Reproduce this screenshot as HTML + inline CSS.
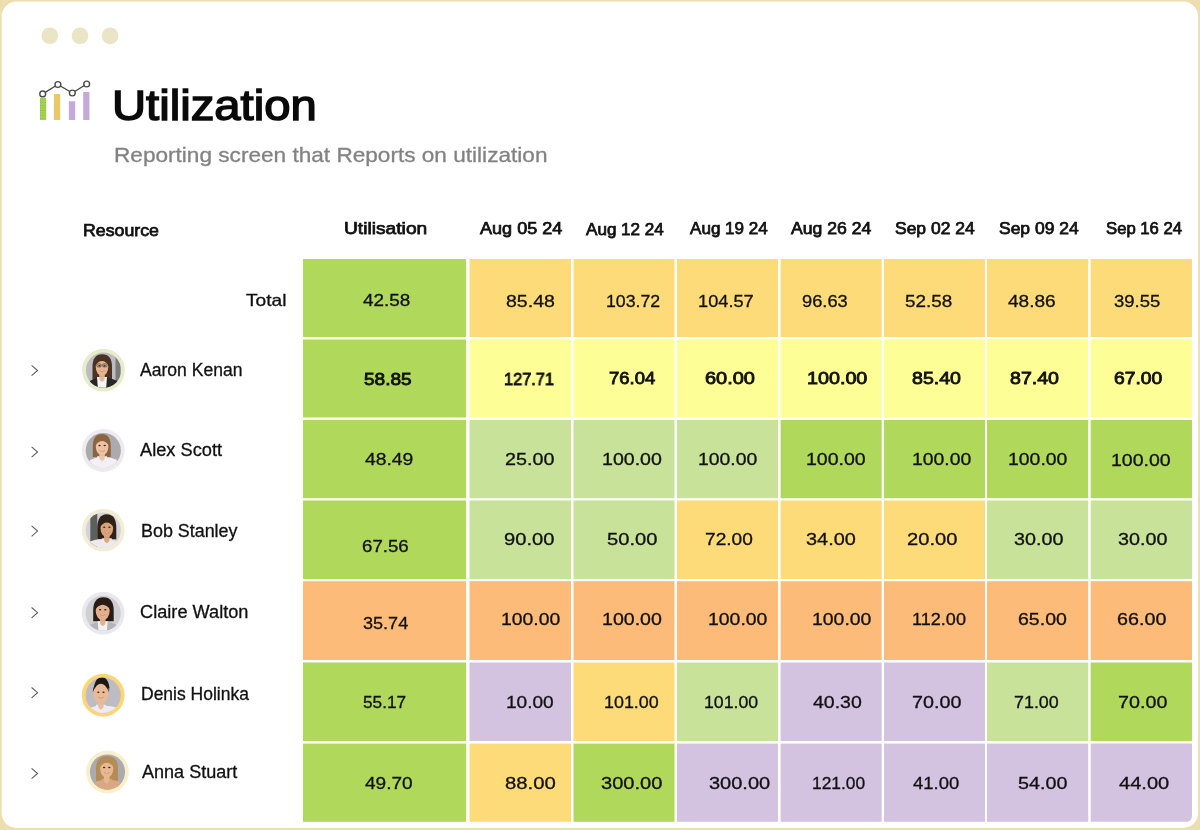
<!DOCTYPE html><html><head><meta charset="utf-8"><style>
*{margin:0;padding:0;box-sizing:border-box}
html,body{width:1200px;height:830px;overflow:hidden;background:#ECDEAF}
body{position:relative;font-family:"Liberation Sans",sans-serif}
.win{position:absolute;left:1.7px;top:1.5px;width:1196.3px;height:826.5px;background:#fff;border-radius:15px}
.t{position:absolute;white-space:nowrap;line-height:1;transform-origin:0 0;will-change:transform}
svg{position:absolute;left:0;top:0}
</style></head><body>
<svg width="1200" height="830" viewBox="0 0 1200 830"><rect x="1.6" y="1.5" width="1196.5" height="826.5" rx="15" ry="15" fill="#fff"/><defs><pattern id="dp" width="2.6" height="2.6" patternUnits="userSpaceOnUse" patternTransform="rotate(45)"><rect width="2.6" height="2.6" fill="#E8E8C8"/><circle cx="1.3" cy="1.3" r="0.55" fill="#F7D2BA"/></pattern><pattern id="gp" width="2.2" height="2.6" patternUnits="userSpaceOnUse"><rect width="2.2" height="2.6" fill="#A3D34E"/><circle cx="1.1" cy="1.3" r="0.4" fill="#6E8A40"/></pattern></defs><circle cx="49.8" cy="35.8" r="8.4" fill="url(#dp)"/><circle cx="80" cy="35.8" r="8.4" fill="url(#dp)"/><circle cx="110.1" cy="35.8" r="8.4" fill="url(#dp)"/><rect x="40" y="98" width="6.2" height="22" fill="url(#gp)"/><rect x="53.9" y="94" width="6.2" height="26" fill="#ECC864"/><rect x="68.8" y="101.3" width="6.4" height="18.7" fill="#C4A9D9"/><rect x="83.2" y="92" width="6.2" height="28" fill="#C4A9D9"/><polyline points="42.7,93.9 57.9,84.5 72.3,93 86.7,84" fill="none" stroke="#4a4a46" stroke-width="1.4"/><circle cx="42.7" cy="93.9" r="2.9" fill="#fff" stroke="#4a4a46" stroke-width="1.4"/><circle cx="57.9" cy="84.5" r="2.9" fill="#fff" stroke="#4a4a46" stroke-width="1.4"/><circle cx="72.3" cy="93" r="2.9" fill="#fff" stroke="#4a4a46" stroke-width="1.4"/><circle cx="86.7" cy="84" r="2.9" fill="#fff" stroke="#4a4a46" stroke-width="1.4"/><rect x="303" y="259" width="163.00" height="78.00" fill="#B0D85A"/><rect x="469.5" y="259" width="101.50" height="78.00" fill="#FDDB79"/><rect x="573.5" y="259" width="101.00" height="78.00" fill="#FDDB79"/><rect x="677" y="259" width="101.00" height="78.00" fill="#FDDB79"/><rect x="780.6" y="259" width="101.10" height="78.00" fill="#FDDB79"/><rect x="884" y="259" width="101.00" height="78.00" fill="#FDDB79"/><rect x="987" y="259" width="101.20" height="78.00" fill="#FDDB79"/><rect x="1090.7" y="259" width="101.30" height="78.00" fill="#FDDB79"/><rect x="303" y="339.5" width="163.00" height="78.00" fill="#B0D85A"/><rect x="469.5" y="339.5" width="101.50" height="78.00" fill="#FEFE97"/><rect x="573.5" y="339.5" width="101.00" height="78.00" fill="#FEFE97"/><rect x="677" y="339.5" width="101.00" height="78.00" fill="#FEFE97"/><rect x="780.6" y="339.5" width="101.10" height="78.00" fill="#FEFE97"/><rect x="884" y="339.5" width="101.00" height="78.00" fill="#FEFE97"/><rect x="987" y="339.5" width="101.20" height="78.00" fill="#FEFE97"/><rect x="1090.7" y="339.5" width="101.30" height="78.00" fill="#FEFE97"/><rect x="303" y="420" width="163.00" height="78.20" fill="#B0D85A"/><rect x="469.5" y="420" width="101.50" height="78.20" fill="#C8E299"/><rect x="573.5" y="420" width="101.00" height="78.20" fill="#C8E299"/><rect x="677" y="420" width="101.00" height="78.20" fill="#C8E299"/><rect x="780.6" y="420" width="101.10" height="78.20" fill="#B0D85A"/><rect x="884" y="420" width="101.00" height="78.20" fill="#B0D85A"/><rect x="987" y="420" width="101.20" height="78.20" fill="#B0D85A"/><rect x="1090.7" y="420" width="101.30" height="78.20" fill="#B0D85A"/><rect x="303" y="500.5" width="163.00" height="78.50" fill="#B0D85A"/><rect x="469.5" y="500.5" width="101.50" height="78.50" fill="#C8E299"/><rect x="573.5" y="500.5" width="101.00" height="78.50" fill="#C8E299"/><rect x="677" y="500.5" width="101.00" height="78.50" fill="#FDDB79"/><rect x="780.6" y="500.5" width="101.10" height="78.50" fill="#FDDB79"/><rect x="884" y="500.5" width="101.00" height="78.50" fill="#FDDB79"/><rect x="987" y="500.5" width="101.20" height="78.50" fill="#C8E299"/><rect x="1090.7" y="500.5" width="101.30" height="78.50" fill="#C8E299"/><rect x="303" y="581.2" width="163.00" height="78.80" fill="#FCBB79"/><rect x="469.5" y="581.2" width="101.50" height="78.80" fill="#FCBB79"/><rect x="573.5" y="581.2" width="101.00" height="78.80" fill="#FCBB79"/><rect x="677" y="581.2" width="101.00" height="78.80" fill="#FCBB79"/><rect x="780.6" y="581.2" width="101.10" height="78.80" fill="#FCBB79"/><rect x="884" y="581.2" width="101.00" height="78.80" fill="#FCBB79"/><rect x="987" y="581.2" width="101.20" height="78.80" fill="#FCBB79"/><rect x="1090.7" y="581.2" width="101.30" height="78.80" fill="#FCBB79"/><rect x="303" y="662.5" width="163.00" height="78.50" fill="#B0D85A"/><rect x="469.5" y="662.5" width="101.50" height="78.50" fill="#D3C3E1"/><rect x="573.5" y="662.5" width="101.00" height="78.50" fill="#FDDB79"/><rect x="677" y="662.5" width="101.00" height="78.50" fill="#C8E299"/><rect x="780.6" y="662.5" width="101.10" height="78.50" fill="#D3C3E1"/><rect x="884" y="662.5" width="101.00" height="78.50" fill="#D3C3E1"/><rect x="987" y="662.5" width="101.20" height="78.50" fill="#C8E299"/><rect x="1090.7" y="662.5" width="101.30" height="78.50" fill="#B0D85A"/><rect x="303" y="743.6" width="163.00" height="78.20" fill="#B0D85A"/><rect x="469.5" y="743.6" width="101.50" height="78.20" fill="#FDDB79"/><rect x="573.5" y="743.6" width="101.00" height="78.20" fill="#B0D85A"/><rect x="677" y="743.6" width="101.00" height="78.20" fill="#D3C3E1"/><rect x="780.6" y="743.6" width="101.10" height="78.20" fill="#D3C3E1"/><rect x="884" y="743.6" width="101.00" height="78.20" fill="#D3C3E1"/><rect x="987" y="743.6" width="101.20" height="78.20" fill="#D3C3E1"/><path d="M1090.7,743.6 H1192 V815.8 Q1192,821.8 1186,821.8 H1090.7 Z" fill="#D3C3E1"/><polyline points="31.6,365.3 37.6,370.5 31.6,375.7" fill="none" stroke="#5a5a5a" stroke-width="1.05"/><polyline points="31.6,446.8 37.6,452.0 31.6,457.2" fill="none" stroke="#5a5a5a" stroke-width="1.05"/><polyline points="31.6,525.9 37.6,531.1 31.6,536.3" fill="none" stroke="#5a5a5a" stroke-width="1.05"/><polyline points="31.6,607.5 37.6,612.7 31.6,617.9" fill="none" stroke="#5a5a5a" stroke-width="1.05"/><polyline points="31.6,687.5 37.6,692.7 31.6,697.9" fill="none" stroke="#5a5a5a" stroke-width="1.05"/><polyline points="31.6,768.3 37.6,773.5 31.6,778.7" fill="none" stroke="#5a5a5a" stroke-width="1.05"/></svg>
<svg width="1200" height="830" viewBox="0 0 1200 830" style="position:absolute;left:0;top:0"><defs><clipPath id="c0"><circle cx="0" cy="0" r="17.6"/></clipPath><clipPath id="c1"><circle cx="0" cy="0" r="17.6"/></clipPath><clipPath id="c2"><circle cx="0" cy="0" r="17.6"/></clipPath><clipPath id="c3"><circle cx="0" cy="0" r="17.6"/></clipPath><clipPath id="c4"><circle cx="0" cy="0" r="17.6"/></clipPath><clipPath id="c5"><circle cx="0" cy="0" r="17.6"/></clipPath></defs><circle cx="103.5" cy="370.2" r="21.4" fill="#E7ECCB"/><g clip-path="url(#c0)" transform="translate(103.5,370.2)"><rect x="-20" y="-20" width="40" height="40" fill="#BDBDC1"/><rect x="12" y="-20" width="5" height="40" fill="#7A7A7C"/><path d="M-11,11 L-11,-3.5 Q-11,-16 -1.25,-16 Q8.5,-16 8.5,-3.5 L8.5,11 Z" fill="#4A3322"/><path d="M-19,20 Q-17,7.699999999999999 -2,7.699999999999999 L2,7.699999999999999 Q17,7.699999999999999 19,20 Z" fill="#262626"/><path d="M-5.5,20 L-6.5,6.699999999999999 L3.5,6.699999999999999 L2.5,20 Z" fill="#F4F4F6"/><path d="M-4.5,2.6999999999999993 L1.5,2.6999999999999993 L1.0,9.7 L-1.5,11.7 L-4.0,9.7 Z" fill="#E4B48E" opacity="0.95"/><ellipse cx="-1.5" cy="-3.5" rx="6.3" ry="9.2" fill="#E4B48E"/><path d="M-8.3,-4.5 Q-7.8,-13.5 -1.5,-13.5 Q4.8,-13.5 5.3,-4.5 Q2.28,-9.02 -1.5,-9.204 Q-5.279999999999999,-9.02 -8.3,-4.5 Z" fill="#4A3322"/><ellipse cx="-4.1" cy="-4.5" rx="1.2" ry="0.7" fill="#3a2a20"/><ellipse cx="1.1" cy="-4.5" rx="1.2" ry="0.7" fill="#3a2a20"/><path d="M-4.0,0.5 Q-1.5,2.3 1.0,0.5" fill="#F4ECEA" stroke="#A86A58" stroke-width="0.6"/><rect x="-6.7" y="-6.3" width="4.4" height="3" rx="1.2" fill="none" stroke="#333" stroke-width="0.65"/><rect x="-0.9" y="-6.3" width="4.4" height="3" rx="1.2" fill="none" stroke="#333" stroke-width="0.65"/></g><circle cx="103.3" cy="450.5" r="21.4" fill="#EEEAF0"/><g clip-path="url(#c1)" transform="translate(103.3,450.5)"><rect x="-20" y="-20" width="40" height="40" fill="#ABABAE"/><path d="M-10.5,6.5 L-10.5,-4 Q-10.5,-16.5 -1.5,-16.5 Q7.5,-16.5 7.5,-4 L7.5,6.5 Z" fill="#8E6440"/><path d="M-19,20 Q-17,6.800000000000001 -2,6.800000000000001 L2,6.800000000000001 Q17,6.800000000000001 19,20 Z" fill="#F2F0F4"/><path d="M-5.2,20 L-6.2,5.800000000000001 L3.8,5.800000000000001 L2.8,20 Z" fill="#F2F0F4"/><path d="M-4.2,1.8000000000000007 L1.8,1.8000000000000007 L1.3,8.8 L-1.2,10.8 L-3.7,8.8 Z" fill="#EBC3A3" opacity="0.95"/><ellipse cx="-1.2" cy="-4" rx="6.3" ry="8.8" fill="#EBC3A3"/><path d="M-8.0,-5 Q-7.5,-13.600000000000001 -1.2,-13.600000000000001 Q5.1,-13.600000000000001 5.6,-5 Q2.58,-9.280000000000001 -1.2,-9.456 Q-4.9799999999999995,-9.280000000000001 -8.0,-5 Z" fill="#8E6440"/><ellipse cx="-3.8" cy="-5" rx="1.2" ry="0.7" fill="#3a2a20"/><ellipse cx="1.4000000000000001" cy="-5" rx="1.2" ry="0.7" fill="#3a2a20"/><path d="M-3.7,0 Q-1.2,1.7999999999999998 1.3,0" fill="#F4ECEA" stroke="#A86A58" stroke-width="0.6"/></g><circle cx="103.3" cy="530.2" r="21.4" fill="#F4EDD6"/><g clip-path="url(#c2)" transform="translate(103.3,530.2)"><rect x="-20" y="-20" width="40" height="40" fill="#D4D2DA"/><rect x="-13" y="-20" width="7" height="40" fill="#5C605C"/><path d="M-6,9 L-6,-2 Q-6,-16 3.5,-16 Q13,-16 13,-2 L13,9 Z" fill="#2E2218"/><path d="M-19,20 Q-17,9 -2,9 L2,9 Q17,9 19,20 Z" fill="#ECEAF0"/><path d="M-0.5,20 L-1.5,8 L8.5,8 L7.5,20 Z" fill="#ECEAF0"/><path d="M0.5,4 L6.5,4 L6.0,11 L3.5,13 L1.0,11 Z" fill="#D9A47A" opacity="0.95"/><ellipse cx="3.5" cy="-2" rx="6.3" ry="9" fill="#D9A47A"/><path d="M-3.3,-3 Q-2.8,-11.8 3.5,-11.8 Q9.8,-11.8 10.3,-3 Q7.279999999999999,-7.3999999999999995 3.5,-7.58 Q-0.2799999999999998,-7.3999999999999995 -3.3,-3 Z" fill="#2E2218"/><ellipse cx="0.8999999999999999" cy="-3" rx="1.2" ry="0.7" fill="#3a2a20"/><ellipse cx="6.1" cy="-3" rx="1.2" ry="0.7" fill="#3a2a20"/><path d="M1.0,2 Q3.5,3.8 6.0,2" fill="#F4ECEA" stroke="#A86A58" stroke-width="0.6"/></g><circle cx="103.2" cy="613.2" r="21.4" fill="#EAE8EE"/><g clip-path="url(#c3)" transform="translate(103.2,613.2)"><rect x="-20" y="-20" width="40" height="40" fill="#D0D0D3"/><path d="M-10,8 L-10,-2.5 Q-10,-16 0.25,-16 Q10.5,-16 10.5,-2.5 L10.5,8 Z" fill="#271D16"/><path d="M-19,20 Q-17,9.0 -2,9.0 L2,9.0 Q17,9.0 19,20 Z" fill="#B4B4B8"/><path d="M-4.5,20 L-5.5,8.0 L4.5,8.0 L3.5,20 Z" fill="#F2F2F4"/><path d="M-3.5,4.0 L2.5,4.0 L2.0,11.0 L-0.5,13.0 L-3.0,11.0 Z" fill="#E3AF8D" opacity="0.95"/><ellipse cx="-0.5" cy="-2.5" rx="7" ry="9.5" fill="#E3AF8D"/><path d="M-8.0,-3.5 Q-7.5,-12.8 -0.5,-12.8 Q6.5,-12.8 7.0,-3.5 Q3.7,-8.2 -0.5,-8.39 Q-4.7,-8.2 -8.0,-3.5 Z" fill="#271D16"/><ellipse cx="-3.1" cy="-3.5" rx="1.2" ry="0.7" fill="#3a2a20"/><ellipse cx="2.1" cy="-3.5" rx="1.2" ry="0.7" fill="#3a2a20"/><path d="M-3.0,1.5 Q-0.5,3.3 2.0,1.5" fill="#F4ECEA" stroke="#A86A58" stroke-width="0.6"/></g><circle cx="103.2" cy="695.2" r="21.4" fill="#FBD674"/><g clip-path="url(#c4)" transform="translate(103.2,695.2)"><rect x="-20" y="-20" width="40" height="40" fill="#BCBCC2"/><path d="M-9.5,-7 L-9.5,-2.0 Q-9.5,-18 -1.5,-18 Q6.5,-18 6.5,-2.0 L6.5,-7 Z" fill="#1E1812"/><path d="M-19,20 Q-17,10.5 -2,10.5 L2,10.5 Q17,10.5 19,20 Z" fill="#EEECF2"/><path d="M-6.3,20 L-7.3,9.5 L2.7,9.5 L1.7000000000000002,20 Z" fill="#EEECF2"/><path d="M-5.3,5.5 L0.7000000000000002,5.5 L0.20000000000000018,12.5 L-2.3,14.5 L-4.8,12.5 Z" fill="#E9BA96" opacity="0.95"/><ellipse cx="-2.3" cy="-2.0" rx="7.6" ry="10.5" fill="#E9BA96"/><path d="M-10.399999999999999,-3.0 Q-9.899999999999999,-13.3 -2.3,-13.3 Q5.3,-13.3 5.8,-3.0 Q2.26,-11.450000000000001 -2.3,-11.450000000000001 Q-6.859999999999999,-11.450000000000001 -10.399999999999999,-3.0 Z" fill="#1E1812"/><ellipse cx="-4.9" cy="-3.0" rx="1.2" ry="0.7" fill="#3a2a20"/><ellipse cx="0.30000000000000027" cy="-3.0" rx="1.2" ry="0.7" fill="#3a2a20"/><path d="M-4.8,2.0 Q-2.3,3.8 0.20000000000000018,2.0" fill="#F4ECEA" stroke="#A86A58" stroke-width="0.6"/></g><circle cx="107.5" cy="772.0" r="21.4" fill="#F8F0CB"/><g clip-path="url(#c5)" transform="translate(107.5,772.0)"><rect x="-20" y="-20" width="40" height="40" fill="#AAAAB2"/><path d="M-11.5,9 L-11.5,-3.5 Q-11.5,-16 -0.5,-16 Q10.5,-16 10.5,-3.5 L10.5,9 Z" fill="#B58C56"/><path d="M-19,20 Q-17,7.699999999999999 -2,7.699999999999999 L2,7.699999999999999 Q17,7.699999999999999 19,20 Z" fill="#D8A884"/><path d="M-4.8,20 L-5.8,6.699999999999999 L4.2,6.699999999999999 L3.2,20 Z" fill="#D8A884"/><path d="M-3.8,2.6999999999999993 L2.2,2.6999999999999993 L1.7,9.7 L-0.8,11.7 L-3.3,9.7 Z" fill="#E8B890" opacity="0.95"/><ellipse cx="-0.8" cy="-3.5" rx="6.6" ry="9.2" fill="#E8B890"/><path d="M-7.8999999999999995,-4.5 Q-7.3999999999999995,-13.5 -0.8,-13.5 Q5.8,-13.5 6.3,-4.5 Q3.1599999999999993,-9.02 -0.8,-9.204 Q-4.76,-9.02 -7.8999999999999995,-4.5 Z" fill="#B58C56"/><ellipse cx="-3.4000000000000004" cy="-4.5" rx="1.2" ry="0.7" fill="#3a2a20"/><ellipse cx="1.8" cy="-4.5" rx="1.2" ry="0.7" fill="#3a2a20"/><path d="M-3.3,0.5 Q-0.8,2.3 1.7,0.5" fill="#F4ECEA" stroke="#A86A58" stroke-width="0.6"/></g></svg>
<div class="t" style="left:112.00px;top:83.74px;font-size:43.4px;font-weight:400;transform:scaleX(1.0887);color:#0a0a0a;-webkit-text-stroke:1.5px #0a0a0a">Utilization</div>
<div class="t" style="left:114.10px;top:144.36px;font-size:21px;font-weight:400;transform:scaleX(1.0763);color:#828282;-webkit-text-stroke:0.3px #828282">Reporting screen that Reports on utilization</div>
<div class="t" style="left:83.20px;top:222.28px;font-size:17px;font-weight:400;transform:scaleX(1.0436);color:#111;-webkit-text-stroke:0.75px #111">Resource</div>
<div class="t" style="left:343.70px;top:219.68px;font-size:17px;font-weight:400;transform:scaleX(1.1297);color:#111;-webkit-text-stroke:0.75px #111">Utilisation</div>
<div class="t" style="left:479.60px;top:219.75px;font-size:16.5px;font-weight:400;transform:scaleX(1.0941);color:#111;-webkit-text-stroke:0.75px #111">Aug 05 24</div>
<div class="t" style="left:585.50px;top:221.45px;font-size:16.5px;font-weight:400;transform:scaleX(1.0346);color:#111;-webkit-text-stroke:0.75px #111">Aug 12 24</div>
<div class="t" style="left:689.60px;top:220.45px;font-size:16.5px;font-weight:400;transform:scaleX(1.0346);color:#111;-webkit-text-stroke:0.75px #111">Aug 19 24</div>
<div class="t" style="left:791.10px;top:220.45px;font-size:16.5px;font-weight:400;transform:scaleX(1.0663);color:#111;-webkit-text-stroke:0.75px #111">Aug 26 24</div>
<div class="t" style="left:894.60px;top:220.25px;font-size:16.5px;font-weight:400;transform:scaleX(1.0585);color:#111;-webkit-text-stroke:0.75px #111">Sep 02 24</div>
<div class="t" style="left:998.50px;top:220.25px;font-size:16.5px;font-weight:400;transform:scaleX(1.0585);color:#111;-webkit-text-stroke:0.75px #111">Sep 09 24</div>
<div class="t" style="left:1105.70px;top:220.25px;font-size:16.5px;font-weight:400;transform:scaleX(1.0113);color:#111;-webkit-text-stroke:0.75px #111">Sep 16 24</div>
<div class="t" style="left:245.90px;top:291.85px;font-size:16.5px;font-weight:400;transform:scaleX(1.1599);color:#111;-webkit-text-stroke:0.3px #111">Total</div>
<div class="t" style="left:140.20px;top:362.42px;font-size:17.5px;font-weight:400;transform:scaleX(1.0023);color:#111;-webkit-text-stroke:0.3px #111">Aaron Kenan</div>
<div class="t" style="left:140.20px;top:442.42px;font-size:17.5px;font-weight:400;transform:scaleX(1.0409);color:#111;-webkit-text-stroke:0.3px #111">Alex Scott</div>
<div class="t" style="left:140.50px;top:522.72px;font-size:17.5px;font-weight:400;transform:scaleX(1.0223);color:#111;-webkit-text-stroke:0.3px #111">Bob Stanley</div>
<div class="t" style="left:139.50px;top:604.42px;font-size:17.5px;font-weight:400;transform:scaleX(1.0392);color:#111;-webkit-text-stroke:0.3px #111">Claire Walton</div>
<div class="t" style="left:140.50px;top:686.42px;font-size:17.5px;font-weight:400;transform:scaleX(1.0001);color:#111;-webkit-text-stroke:0.3px #111">Denis Holinka</div>
<div class="t" style="left:141.80px;top:764.42px;font-size:17.5px;font-weight:400;transform:scaleX(1.0308);color:#111;-webkit-text-stroke:0.3px #111">Anna Stuart</div>
<div class="t" style="left:362.50px;top:291.78px;font-size:17px;font-weight:400;transform:scaleX(1.1116);color:#111;-webkit-text-stroke:0.3px #111">42.58</div>
<div class="t" style="left:505.50px;top:292.78px;font-size:17px;font-weight:400;transform:scaleX(1.1485);color:#111;-webkit-text-stroke:0.3px #111">85.48</div>
<div class="t" style="left:605.50px;top:292.78px;font-size:17px;font-weight:400;transform:scaleX(1.0408);color:#111;-webkit-text-stroke:0.3px #111">103.72</div>
<div class="t" style="left:697.50px;top:292.78px;font-size:17px;font-weight:400;transform:scaleX(1.0711);color:#111;-webkit-text-stroke:0.3px #111">104.57</div>
<div class="t" style="left:801.50px;top:292.78px;font-size:17px;font-weight:400;transform:scaleX(1.0755);color:#111;-webkit-text-stroke:0.3px #111">96.63</div>
<div class="t" style="left:904.50px;top:292.78px;font-size:17px;font-weight:400;transform:scaleX(1.1114);color:#111;-webkit-text-stroke:0.3px #111">52.58</div>
<div class="t" style="left:1008.00px;top:292.78px;font-size:17px;font-weight:400;transform:scaleX(1.1190);color:#111;-webkit-text-stroke:0.3px #111">48.86</div>
<div class="t" style="left:1113.50px;top:292.78px;font-size:17px;font-weight:400;transform:scaleX(1.0871);color:#111;-webkit-text-stroke:0.3px #111">39.55</div>
<div class="t" style="left:363.50px;top:371.28px;font-size:17px;font-weight:400;transform:scaleX(1.1212);color:#111;-webkit-text-stroke:0.85px #111">58.85</div>
<div class="t" style="left:504.00px;top:371.28px;font-size:17px;font-weight:400;transform:scaleX(0.9625);color:#111;-webkit-text-stroke:0.85px #111">127.71</div>
<div class="t" style="left:608.50px;top:370.28px;font-size:17px;font-weight:400;transform:scaleX(1.0851);color:#111;-webkit-text-stroke:0.85px #111">76.04</div>
<div class="t" style="left:704.50px;top:370.28px;font-size:17px;font-weight:400;transform:scaleX(1.1731);color:#111;-webkit-text-stroke:0.85px #111">60.00</div>
<div class="t" style="left:807.00px;top:370.28px;font-size:17px;font-weight:400;transform:scaleX(1.1603);color:#111;-webkit-text-stroke:0.85px #111">100.00</div>
<div class="t" style="left:912.00px;top:370.28px;font-size:17px;font-weight:400;transform:scaleX(1.1504);color:#111;-webkit-text-stroke:0.85px #111">85.40</div>
<div class="t" style="left:1009.50px;top:370.28px;font-size:17px;font-weight:400;transform:scaleX(1.1504);color:#111;-webkit-text-stroke:0.85px #111">87.40</div>
<div class="t" style="left:1113.50px;top:370.28px;font-size:17px;font-weight:400;transform:scaleX(1.1336);color:#111;-webkit-text-stroke:0.85px #111">67.00</div>
<div class="t" style="left:364.50px;top:450.78px;font-size:17px;font-weight:400;transform:scaleX(1.1369);color:#111;-webkit-text-stroke:0.3px #111">48.49</div>
<div class="t" style="left:504.50px;top:450.78px;font-size:17px;font-weight:400;transform:scaleX(1.1603);color:#111;-webkit-text-stroke:0.3px #111">25.00</div>
<div class="t" style="left:601.50px;top:450.78px;font-size:17px;font-weight:400;transform:scaleX(1.1512);color:#111;-webkit-text-stroke:0.3px #111">100.00</div>
<div class="t" style="left:697.50px;top:450.78px;font-size:17px;font-weight:400;transform:scaleX(1.1403);color:#111;-webkit-text-stroke:0.3px #111">100.00</div>
<div class="t" style="left:805.50px;top:450.78px;font-size:17px;font-weight:400;transform:scaleX(1.1481);color:#111;-webkit-text-stroke:0.3px #111">100.00</div>
<div class="t" style="left:911.50px;top:450.78px;font-size:17px;font-weight:400;transform:scaleX(1.1403);color:#111;-webkit-text-stroke:0.3px #111">100.00</div>
<div class="t" style="left:1007.50px;top:450.78px;font-size:17px;font-weight:400;transform:scaleX(1.1415);color:#111;-webkit-text-stroke:0.3px #111">100.00</div>
<div class="t" style="left:1110.50px;top:451.78px;font-size:17px;font-weight:400;transform:scaleX(1.1481);color:#111;-webkit-text-stroke:0.3px #111">100.00</div>
<div class="t" style="left:362.00px;top:537.78px;font-size:17px;font-weight:400;transform:scaleX(1.0976);color:#111;-webkit-text-stroke:0.3px #111">67.56</div>
<div class="t" style="left:504.00px;top:530.78px;font-size:17px;font-weight:400;transform:scaleX(1.1847);color:#111;-webkit-text-stroke:0.3px #111">90.00</div>
<div class="t" style="left:606.50px;top:530.78px;font-size:17px;font-weight:400;transform:scaleX(1.1845);color:#111;-webkit-text-stroke:0.3px #111">50.00</div>
<div class="t" style="left:704.50px;top:530.78px;font-size:17px;font-weight:400;transform:scaleX(1.1242);color:#111;-webkit-text-stroke:0.3px #111">72.00</div>
<div class="t" style="left:806.00px;top:530.78px;font-size:17px;font-weight:400;transform:scaleX(1.1707);color:#111;-webkit-text-stroke:0.3px #111">34.00</div>
<div class="t" style="left:906.50px;top:530.78px;font-size:17px;font-weight:400;transform:scaleX(1.1845);color:#111;-webkit-text-stroke:0.3px #111">20.00</div>
<div class="t" style="left:1013.50px;top:530.78px;font-size:17px;font-weight:400;transform:scaleX(1.1601);color:#111;-webkit-text-stroke:0.3px #111">30.00</div>
<div class="t" style="left:1117.50px;top:530.78px;font-size:17px;font-weight:400;transform:scaleX(1.1603);color:#111;-webkit-text-stroke:0.3px #111">30.00</div>
<div class="t" style="left:362.50px;top:615.28px;font-size:17px;font-weight:400;transform:scaleX(1.0629);color:#111;-webkit-text-stroke:0.3px #111">35.74</div>
<div class="t" style="left:500.50px;top:610.78px;font-size:17px;font-weight:400;transform:scaleX(1.1387);color:#111;-webkit-text-stroke:0.3px #111">100.00</div>
<div class="t" style="left:601.50px;top:610.78px;font-size:17px;font-weight:400;transform:scaleX(1.1512);color:#111;-webkit-text-stroke:0.3px #111">100.00</div>
<div class="t" style="left:707.50px;top:610.78px;font-size:17px;font-weight:400;transform:scaleX(1.1415);color:#111;-webkit-text-stroke:0.3px #111">100.00</div>
<div class="t" style="left:811.50px;top:610.78px;font-size:17px;font-weight:400;transform:scaleX(1.1415);color:#111;-webkit-text-stroke:0.3px #111">100.00</div>
<div class="t" style="left:912.00px;top:610.78px;font-size:17px;font-weight:400;transform:scaleX(1.0629);color:#111;-webkit-text-stroke:0.3px #111">112.00</div>
<div class="t" style="left:1017.50px;top:610.78px;font-size:17px;font-weight:400;transform:scaleX(1.1485);color:#111;-webkit-text-stroke:0.3px #111">65.00</div>
<div class="t" style="left:1117.00px;top:610.78px;font-size:17px;font-weight:400;transform:scaleX(1.1603);color:#111;-webkit-text-stroke:0.3px #111">66.00</div>
<div class="t" style="left:362.50px;top:693.78px;font-size:17px;font-weight:400;transform:scaleX(1.0140);color:#111;-webkit-text-stroke:0.3px #111">55.17</div>
<div class="t" style="left:506.00px;top:693.78px;font-size:17px;font-weight:400;transform:scaleX(1.1220);color:#111;-webkit-text-stroke:0.3px #111">10.00</div>
<div class="t" style="left:604.00px;top:693.78px;font-size:17px;font-weight:400;transform:scaleX(1.0513);color:#111;-webkit-text-stroke:0.3px #111">101.00</div>
<div class="t" style="left:703.50px;top:693.78px;font-size:17px;font-weight:400;transform:scaleX(1.0416);color:#111;-webkit-text-stroke:0.3px #111">101.00</div>
<div class="t" style="left:812.50px;top:693.78px;font-size:17px;font-weight:400;transform:scaleX(1.1468);color:#111;-webkit-text-stroke:0.3px #111">40.30</div>
<div class="t" style="left:912.00px;top:693.78px;font-size:17px;font-weight:400;transform:scaleX(1.1603);color:#111;-webkit-text-stroke:0.3px #111">70.00</div>
<div class="t" style="left:1013.50px;top:693.78px;font-size:17px;font-weight:400;transform:scaleX(1.0511);color:#111;-webkit-text-stroke:0.3px #111">71.00</div>
<div class="t" style="left:1117.50px;top:693.78px;font-size:17px;font-weight:400;transform:scaleX(1.1603);color:#111;-webkit-text-stroke:0.3px #111">70.00</div>
<div class="t" style="left:365.00px;top:775.28px;font-size:17px;font-weight:400;transform:scaleX(1.1190);color:#111;-webkit-text-stroke:0.3px #111">49.70</div>
<div class="t" style="left:504.50px;top:775.28px;font-size:17px;font-weight:400;transform:scaleX(1.1951);color:#111;-webkit-text-stroke:0.3px #111">88.00</div>
<div class="t" style="left:601.00px;top:775.28px;font-size:17px;font-weight:400;transform:scaleX(1.1803);color:#111;-webkit-text-stroke:0.3px #111">300.00</div>
<div class="t" style="left:708.50px;top:775.28px;font-size:17px;font-weight:400;transform:scaleX(1.1765);color:#111;-webkit-text-stroke:0.3px #111">300.00</div>
<div class="t" style="left:811.50px;top:775.28px;font-size:17px;font-weight:400;transform:scaleX(1.0204);color:#111;-webkit-text-stroke:0.3px #111">121.00</div>
<div class="t" style="left:913.00px;top:775.28px;font-size:17px;font-weight:400;transform:scaleX(1.0854);color:#111;-webkit-text-stroke:0.3px #111">41.00</div>
<div class="t" style="left:1017.50px;top:775.28px;font-size:17px;font-weight:400;transform:scaleX(1.1603);color:#111;-webkit-text-stroke:0.3px #111">54.00</div>
<div class="t" style="left:1118.50px;top:775.28px;font-size:17px;font-weight:400;transform:scaleX(1.1801);color:#111;-webkit-text-stroke:0.3px #111">44.00</div>
</body></html>
